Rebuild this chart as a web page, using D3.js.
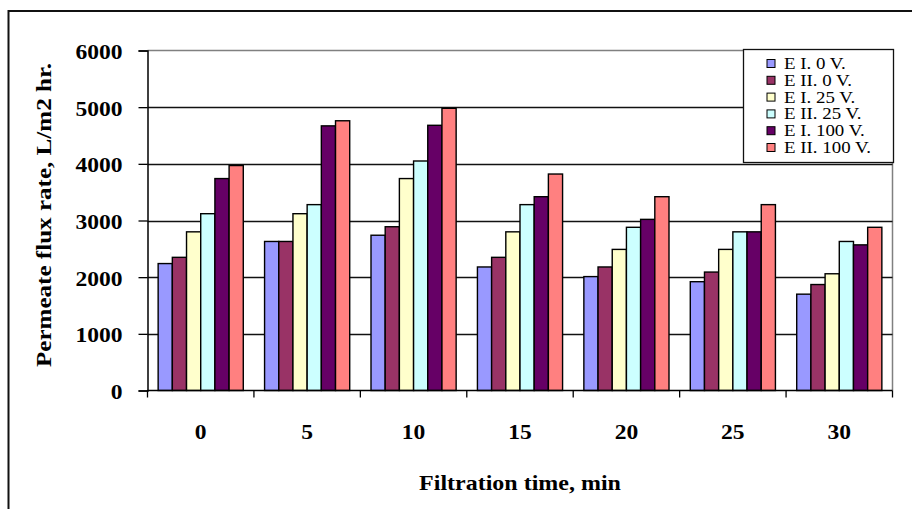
<!DOCTYPE html>
<html>
<head>
<meta charset="utf-8">
<script src="https://cdn.jsdelivr.net/npm/d3@7"></script>
<style>
  html, body { margin: 0; padding: 0; background: #fff; }
  svg { display: block; }
  text { font-family: "Liberation Serif", "Times New Roman", serif; fill: #000; }
</style>
</head>
<body>
<svg id="chart" width="912" height="509"></svg>
<script>
// Filtration times (min)
const categories = ["0", "5", "10", "15", "20", "25", "30"];

// Permeate flux rate, L/m2 hr.
const e1_0V   = [2240, 2630, 2740, 2180, 2010, 1920, 1700];
const e2_0V   = [2350, 2630, 2890, 2350, 2180, 2090, 1870];
const e1_25V  = [2800, 3120, 3740, 2800, 2490, 2490, 2060];
const e2_25V  = [3120, 3280, 4050, 3280, 2880, 2800, 2630];
const e1_100V = [3740, 4670, 4680, 3420, 3020, 2800, 2570];
const e2_100V = [3970, 4760, 4980, 3820, 3420, 3280, 2880];

const seriesNames = ["E I. 0 V.", "E II. 0 V.", "E I. 25 V.", "E II. 25 V.", "E I. 100 V.", "E II. 100 V."];
const seriesValues = [e1_0V, e2_0V, e1_25V, e2_25V, e1_100V, e2_100V];
const seriesColors = ["#9999FF", "#993366", "#FFFFCC", "#CCFFFF", "#660066", "#FF8080"];

const yTicks = [0, 1000, 2000, 3000, 4000, 5000, 6000];

const svg = d3.select("#chart");

// outer frame
svg.append("rect")
  .attr("x", 8.5).attr("y", 11).attr("width", 940).attr("height", 540)
  .attr("fill", "none").attr("stroke", "#111").attr("stroke-width", 2);

const plot = { left: 147.5, right: 892.5, top: 50.5, bottom: 390.5 };

const x = d3.scaleBand()
  .domain(categories)
  .range([plot.left, plot.right])
  .paddingInner(0.2)
  .paddingOuter(0.1);

const xs = d3.scaleBand()
  .domain(d3.range(seriesNames.length))
  .range([0, x.bandwidth()])
  .padding(0);

const y = d3.scaleLinear().domain([0, 6000]).range([plot.bottom, plot.top]);

// plot area border (top / right)
svg.append("path")
  .attr("d", `M${plot.left},${plot.top}H${plot.right}V${plot.bottom}`)
  .attr("fill", "none").attr("stroke", "#808080").attr("stroke-width", 1.5);

// horizontal gridlines
svg.append("g")
  .selectAll("line")
  .data(yTicks.filter(t => t > 0 && t < 6000))
  .join("line")
  .attr("x1", plot.left).attr("x2", plot.right)
  .attr("y1", d => Math.round(y(d)) + 0.5).attr("y2", d => Math.round(y(d)) + 0.5)
  .attr("stroke", "#111").attr("stroke-width", 1.3);

// bars
const groups = svg.append("g")
  .selectAll("g")
  .data(categories)
  .join("g")
  .attr("transform", d => `translate(${x(d)},0)`);

groups.selectAll("rect")
  .data((c, ci) => seriesValues.map((vals, si) => ({ si, v: vals[ci] })))
  .join("rect")
  .attr("x", d => xs(d.si))
  .attr("y", d => y(d.v))
  .attr("width", xs.bandwidth())
  .attr("height", d => y(0) - y(d.v))
  .attr("fill", d => seriesColors[d.si])
  .attr("stroke", "#000")
  .attr("stroke-width", 1.4);

// y axis
const yAxis = d3.axisLeft(y).tickValues(yTicks).tickSize(9).tickPadding(16).tickFormat(d3.format("d"));
const gy = svg.append("g").attr("transform", `translate(${plot.left},0)`).call(yAxis);
gy.select(".domain").attr("stroke", "#000").attr("stroke-width", 1.5);
gy.selectAll(".tick line").attr("stroke", "#000").attr("stroke-width", 1.3);
gy.selectAll(".tick text")
  .attr("font-family", null)
  .attr("font-size", 22).attr("font-weight", "bold")
  .attr("dy", "0.36em").attr("fill", "#000")
  .attr("data-k", 1.07);

// x axis with ticks at group boundaries
const gx = svg.append("g").attr("transform", `translate(0,${plot.bottom})`);
gx.append("line")
  .attr("x1", plot.left).attr("x2", plot.right)
  .attr("stroke", "#000").attr("stroke-width", 1.5);
const step = x.step();
gx.selectAll("line.tk")
  .data(d3.range(categories.length + 1))
  .join("line")
  .attr("class", "tk")
  .attr("x1", i => plot.left + i * step).attr("x2", i => plot.left + i * step)
  .attr("y1", 0).attr("y2", 7)
  .attr("stroke", "#000").attr("stroke-width", 1.3);
gx.selectAll("text")
  .data(categories)
  .join("text")
  .attr("x", d => x(d) + x.bandwidth() / 2)
  .attr("y", 48)
  .attr("text-anchor", "middle")
  .attr("font-size", 22).attr("font-weight", "bold")
  .attr("data-k", 1.07)
  .text(d => d);

// axis titles
svg.append("text")
  .attr("x", (plot.left + plot.right) / 2)
  .attr("y", 490)
  .attr("text-anchor", "middle")
  .attr("font-size", 22).attr("font-weight", "bold")
  .attr("data-k", 1.09)
  .text("Filtration time, min");

svg.append("text")
  .attr("transform", "translate(51,215) rotate(-90)")
  .attr("text-anchor", "middle")
  .attr("font-size", 22).attr("font-weight", "bold")
  .attr("data-k", 1.14)
  .text("Permeate flux rate, L/m2 hr.");

// legend
const legend = svg.append("g");
legend.append("rect")
  .attr("x", 743.5).attr("y", 49.5).attr("width", 150).attr("height", 113)
  .attr("fill", "#fff").attr("stroke", "#111").attr("stroke-width", 1.3);
const items = legend.selectAll("g.item")
  .data(seriesNames)
  .join("g")
  .attr("class", "item")
  .attr("transform", (d, i) => `translate(0,${63.5 + i * 16.8})`);
items.append("rect")
  .attr("x", 767).attr("y", -4).attr("width", 8).attr("height", 8)
  .attr("fill", (d, i) => seriesColors[i])
  .attr("stroke", "#000").attr("stroke-width", 1);
items.append("text")
  .attr("x", 784).attr("y", 5.5)
  .attr("font-size", 16)
  .attr("data-k", 1.18)
  .text(d => d);

// widen glyphs slightly to follow the original typesetting
svg.selectAll("text").each(function () {
  const k = +this.getAttribute("data-k") || 1;
  const len = this.getComputedTextLength();
  d3.select(this).attr("textLength", len * k).attr("lengthAdjust", "spacingAndGlyphs");
});
</script>
</body>
</html>
